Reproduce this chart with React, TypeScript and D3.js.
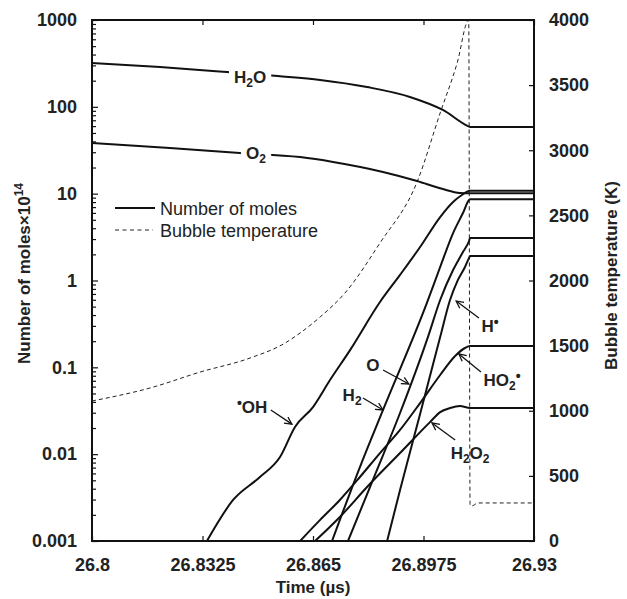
import React, { useRef, useEffect } from 'react';
import * as d3 from 'd3';

// axis ticks
const timeTicks = [26.8, 26.8325, 26.865, 26.8975, 26.93];
const molesTicks = [0.001, 0.01, 0.1, 1, 10, 100, 1000];
const tempTicks = [0, 500, 1000, 1500, 2000, 2500, 3000, 3500, 4000];

// [time (us), number of moles x 1e14]
const h2o = [[26.8, 320], [26.82, 288], [26.8397, 252], [26.8547, 226], [26.8671, 204], [26.8809, 169], [26.8935, 130], [26.9032, 92], [26.9106, 60], [26.9112, 58.6], [26.93, 58.6]];
const o2 = [[26.8, 38.3], [26.8229, 33.5], [26.8435, 29.4], [26.8612, 26.4], [26.8709, 23.2], [26.8856, 17.8], [26.8956, 14.0], [26.9032, 11.3], [26.9082, 10.2], [26.9112, 10.1], [26.93, 10.1]];
const oh = [[26.8338, 0.001], [26.8415, 0.00297], [26.8494, 0.00546], [26.8553, 0.00927], [26.8597, 0.0206], [26.865, 0.0349], [26.87, 0.0714], [26.8759, 0.158], [26.8847, 0.565], [26.8906, 1.16], [26.8965, 2.43], [26.9024, 5.38], [26.9062, 8.02], [26.9088, 9.66], [26.9112, 10.8], [26.93, 10.8]];
const h2 = [[26.8706, 0.001], [26.8788, 0.00711], [26.8856, 0.0323], [26.8985, 0.551], [26.9024, 1.43], [26.9062, 3.52], [26.9091, 5.98], [26.9109, 8.45], [26.9112, 8.6], [26.93, 8.6]];
const o = [[26.8753, 0.001], [26.8826, 0.00504], [26.8906, 0.0298], [26.8988, 0.223], [26.9024, 0.596], [26.9062, 1.32], [26.9091, 2.13], [26.9109, 2.85], [26.9112, 3.08], [26.93, 3.08]];
const h = [[26.8868, 0.001], [26.8906, 0.00386], [26.8965, 0.029], [26.9024, 0.223], [26.9053, 0.596], [26.9076, 1.01], [26.9097, 1.43], [26.9109, 1.82], [26.9112, 1.92], [26.93, 1.92]];
const ho2 = [[26.8612, 0.001], [26.8671, 0.00175], [26.8729, 0.00297], [26.8788, 0.00546], [26.8847, 0.0103], [26.8906, 0.019], [26.8965, 0.0388], [26.9024, 0.0816], [26.9068, 0.135], [26.9097, 0.167], [26.9112, 0.176], [26.93, 0.176]];
const h2o2 = [[26.8656, 0.001], [26.8729, 0.00189], [26.8809, 0.00419], [26.8906, 0.0103], [26.8994, 0.0234], [26.9024, 0.0305], [26.9053, 0.034], [26.9082, 0.0359], [26.9112, 0.034], [26.93, 0.034]];

// [time (us), bubble temperature (K)]
const bubbleTemp = [[26.8, 1075], [26.8171, 1175], [26.8318, 1297], [26.8465, 1405], [26.8568, 1520], [26.8612, 1597], [26.8671, 1720], [26.8744, 1904], [26.8847, 2288], [26.8956, 2756], [26.9024, 3286], [26.9074, 3670], [26.9108, 4000], [26.9112, 276], [26.9118, 270], [26.9135, 292], [26.93, 292]];

const species = [h2o, o2, oh, h2, o, h, ho2, h2o2];

// label parts: [text, kind] kind: n normal, s subscript, p superscript
// inline labels sit on the line (line broken behind them)
const inlineLabels = [
    { parts: [['H', 'n'], ['2', 's'], ['O', 'n']], at: [26.8465, 221] },
    { parts: [['O', 'n'], ['2', 's']], at: [26.8482, 29.4] },
];
// arrow labels: text centre, arrow start, arrow tip
const arrowLabels = [
    { parts: [['•', 'p'], ['OH', 'n']], at: [26.8471, 0.0349], from: [26.8526, 0.0323], to: [26.8588, 0.0222] },
    { parts: [['H', 'n'], ['2', 's']], at: [26.8765, 0.048], from: [26.8797, 0.0443], to: [26.8856, 0.0323] },
    { parts: [['O', 'n']], at: [26.8826, 0.1064], from: [26.8856, 0.0931], to: [26.8932, 0.0643] },
    { parts: [['H', 'n'], ['•', 'p']], at: [26.9171, 0.299], from: [26.9138, 0.37], to: [26.9071, 0.581] },
    { parts: [['HO', 'n'], ['2', 's'], ['•', 'p']], at: [26.9206, 0.0714], from: [26.9144, 0.0883], to: [26.9079, 0.1426] },
    { parts: [['H', 'n'], ['2', 's'], ['O', 'n'], ['2', 's']], at: [26.9112, 0.0103], from: [26.9068, 0.01456], to: [26.9, 0.0229] },
];

const font = 'Liberation Sans, Arial, Helvetica, sans-serif';

const addParts = (text, parts) => {
    let shift = 0;
    parts.forEach(([t, kind]) => {
        const target = kind === 's' ? 4 : kind === 'p' ? -5 : 0;
        text.append('tspan')
            .attr('dy', target - shift)
            .attr('font-size', kind === 'n' ? 17 : kind === 's' ? 12 : 14)
            .text(t);
        shift = target;
    });
};

const App = () => {
    const svgRef = useRef(null);
    const width = 627;
    const height = 599;

    useEffect(() => {
        const svg = d3.select(svgRef.current);
        svg.selectAll('*').remove();

        const left = 92, right = 534, top = 20, bottom = 541;

        const xScale = d3.scaleLinear().domain([26.8, 26.93]).range([left, right]);
        const yScale = d3.scaleLog().domain([0.001, 1000]).range([bottom, top]);
        const tScale = d3.scaleLinear().domain([0, 4000]).range([bottom, top]);

        svg.append('defs').append('clipPath').attr('id', 'plot-clip')
            .append('rect')
            .attr('x', left).attr('y', top - 1)
            .attr('width', right - left).attr('height', bottom - top + 1);

        const marker = svg.select('defs').append('marker')
            .attr('id', 'arrow')
            .attr('viewBox', '0 0 10 10')
            .attr('refX', 9).attr('refY', 5)
            .attr('markerWidth', 9).attr('markerHeight', 9)
            .attr('markerUnits', 'userSpaceOnUse')
            .attr('orient', 'auto');
        marker.append('path')
            .attr('d', 'M1,1 L9,5 L1,9')
            .attr('fill', 'none')
            .attr('stroke', '#111')
            .attr('stroke-width', 1.4);

        // axes
        const fmt = d => String(d);

        const yAxis = svg.append('g')
            .attr('transform', `translate(${left},0)`)
            .call(d3.axisLeft(yScale).tickValues(molesTicks).tickFormat(fmt)
                .tickSizeInner(-6).tickSizeOuter(0).tickPadding(15));

        const minor = [];
        for (let e = -3; e < 3; e++) {
            for (let m = 2; m < 10; m++) minor.push(m * Math.pow(10, e));
        }
        svg.append('g')
            .attr('transform', `translate(${left},0)`)
            .call(d3.axisLeft(yScale).tickValues(minor).tickFormat(() => '')
                .tickSizeInner(-4).tickSizeOuter(0));

        const xAxis = svg.append('g')
            .attr('transform', `translate(0,${bottom})`)
            .call(d3.axisBottom(xScale).tickValues(timeTicks).tickFormat(fmt)
                .tickSizeInner(-5).tickSizeOuter(0).tickPadding(17));

        svg.append('g')
            .attr('transform', `translate(0,${top})`)
            .call(d3.axisTop(xScale).tickValues(timeTicks).tickFormat(() => '')
                .tickSizeInner(-5).tickSizeOuter(0));

        const tAxis = svg.append('g')
            .attr('transform', `translate(${right},0)`)
            .call(d3.axisRight(tScale).tickValues(tempTicks).tickFormat(fmt)
                .tickSizeInner(-5).tickSizeOuter(0).tickPadding(15));

        svg.selectAll('.domain').remove();
        svg.selectAll('.tick line').attr('stroke', '#111').attr('stroke-width', 1.2);
        [yAxis, xAxis, tAxis].forEach(a => a.selectAll('text')
            .attr('font-family', font)
            .attr('font-weight', 'bold')
            .attr('font-size', 18)
            .attr('fill', '#222'));

        // frame
        svg.append('rect')
            .attr('x', left).attr('y', top)
            .attr('width', right - left).attr('height', bottom - top)
            .attr('fill', 'none')
            .attr('stroke', '#111')
            .attr('stroke-width', 2);

        const plot = svg.append('g').attr('clip-path', 'url(#plot-clip)');

        // bubble temperature
        const tempLine = d3.line()
            .x(d => xScale(d[0]))
            .y(d => tScale(d[1]))
            .curve(d3.curveMonotoneX);

        plot.append('path')
            .attr('d', tempLine(bubbleTemp))
            .attr('fill', 'none')
            .attr('stroke', '#222')
            .attr('stroke-width', 1)
            .attr('stroke-dasharray', '4,3');

        // number of moles
        const molLine = d3.line()
            .x(d => xScale(d[0]))
            .y(d => yScale(d[1]))
            .curve(d3.curveMonotoneX);

        plot.selectAll('.species')
            .data(species)
            .join('path')
            .attr('class', 'species')
            .attr('d', d => molLine(d))
            .attr('fill', 'none')
            .attr('stroke', '#111')
            .attr('stroke-width', 2);

        // labels sitting on lines
        inlineLabels.forEach(l => {
            const g = svg.append('g');
            const bg = g.append('rect').attr('fill', 'white');
            const text = g.append('text')
                .attr('x', xScale(l.at[0]))
                .attr('y', yScale(l.at[1]) + 6)
                .attr('text-anchor', 'middle')
                .attr('font-family', font)
                .attr('font-weight', 'bold')
                .attr('fill', '#222');
            addParts(text, l.parts);
            const bb = text.node().getBBox();
            bg.attr('x', bb.x - 5).attr('y', bb.y + 2)
                .attr('width', bb.width + 10).attr('height', bb.height - 4);
        });

        arrowLabels.forEach(l => {
            svg.append('line')
                .attr('x1', xScale(l.from[0])).attr('y1', yScale(l.from[1]))
                .attr('x2', xScale(l.to[0])).attr('y2', yScale(l.to[1]))
                .attr('stroke', '#111')
                .attr('stroke-width', 1.3)
                .attr('marker-end', 'url(#arrow)');
            const text = svg.append('text')
                .attr('x', xScale(l.at[0]))
                .attr('y', yScale(l.at[1]) + 6)
                .attr('text-anchor', 'middle')
                .attr('font-family', font)
                .attr('font-weight', 'bold')
                .attr('fill', '#222');
            addParts(text, l.parts);
        });

        // legend
        const legend = svg.append('g').attr('font-family', font).attr('font-size', 18).attr('fill', '#222');
        legend.append('line')
            .attr('x1', 115).attr('x2', 155).attr('y1', 208).attr('y2', 208)
            .attr('stroke', '#111').attr('stroke-width', 2);
        legend.append('text').attr('x', 160).attr('y', 214.5).text('Number of moles');
        legend.append('line')
            .attr('x1', 115).attr('x2', 153).attr('y1', 230).attr('y2', 230)
            .attr('stroke', '#222').attr('stroke-width', 1).attr('stroke-dasharray', '4,3.5');
        legend.append('text').attr('x', 160).attr('y', 236.5).text('Bubble temperature');

        // axis titles
        const yTitle = svg.append('text')
            .attr('transform', `translate(30,${(top + bottom) / 2 - 7}) rotate(-90)`)
            .attr('text-anchor', 'middle')
            .attr('font-family', font).attr('font-weight', 'bold').attr('font-size', 17)
            .attr('fill', '#222');
        yTitle.append('tspan').text('Number of moles×10');
        yTitle.append('tspan').attr('dy', -7).attr('font-size', 12).text('14');

        svg.append('text')
            .attr('transform', `translate(617,${(top + bottom) / 2 - 5}) rotate(-90)`)
            .attr('text-anchor', 'middle')
            .attr('font-family', font).attr('font-weight', 'bold').attr('font-size', 17)
            .attr('fill', '#222')
            .text('Bubble temperature (K)');

        svg.append('text')
            .attr('x', (left + right) / 2)
            .attr('y', 593)
            .attr('text-anchor', 'middle')
            .attr('font-family', font).attr('font-weight', 'bold').attr('font-size', 17)
            .attr('fill', '#222')
            .text('Time (µs)');
    }, []);

    return (
        <svg
            ref={svgRef}
            width={width}
            height={height}
            style={{ position: 'absolute', left: 0, top: 0, background: 'white' }}
        />
    );
};

export default App;
